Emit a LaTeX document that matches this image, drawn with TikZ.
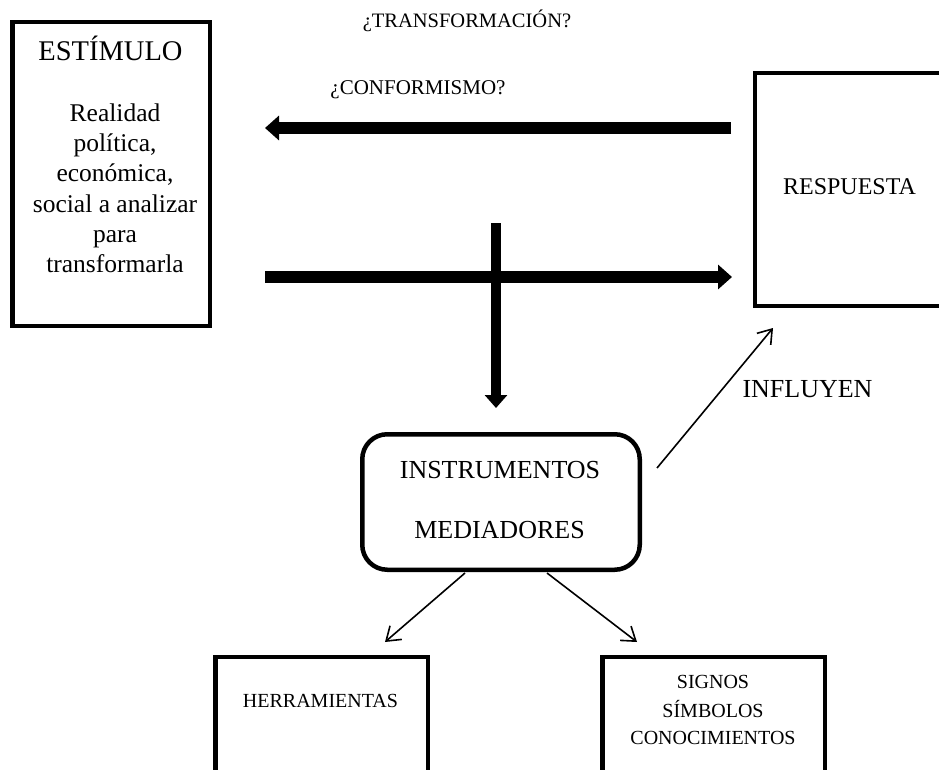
\documentclass[tikz,border=0pt]{standalone}
\usepackage{fontspec}
\setmainfont{Liberation Serif}
\usetikzlibrary{arrows.meta}
\begin{document}
\begin{tikzpicture}[x=1pt,y=-1pt,
  box/.style={draw, line width=4.5pt, inner sep=0pt},
  fatarrow/.style={line width=12pt, -{Triangle[length=14pt,width=24pt]}},
  thinarrow/.style={line width=1.6pt, -{Straight Barb[length=13pt,width=18pt]}},
  lbl/.style={anchor=base, inner sep=0pt},
  fs/.style={font=\fontsize{#1}{#1}\selectfont}
]
\useasboundingbox (0,0) rectangle (939,770);
\clip (0,0) rectangle (939,770);

% boxes
\node[box, minimum width=197.5pt, minimum height=303.5pt] (estim) at (111,174) {};
\node[box, minimum width=209.75pt, minimum height=232.5pt] (resp) at (860.1,189.5) {};
\node[box, rounded corners=25pt, minimum width=277.5pt, minimum height=135.5pt] (instr) at (501,502) {};
\node[box, minimum width=212.5pt, minimum height=142.75pt] (herr) at (321.5,728.6) {};
\node[box, minimum width=222.5pt, minimum height=142.75pt] (signos) at (713.5,728.6) {};

% texts
\node[lbl, fs=20.5] (transf) at (467,28) {¿TRANSFORMACIÓN?};
\node[lbl, fs=21] (conf) at (418,95) {¿CONFORMISMO?};
\node[lbl, fs=28.5] (estimtitle) at (110.5,61) {ESTÍMULO};
\node[lbl, fs=25.5] (r1) at (115,122) {Realidad};
\node[lbl, fs=25.5] (r2) at (115,152) {política,};
\node[lbl, fs=25.5] (r3) at (115,182) {económica,};
\node[lbl, fs=25.5] (r4) at (115,212) {social a analizar};
\node[lbl, fs=25.5] (r5) at (115,242) {para};
\node[lbl, fs=25.5] (r6) at (115,272) {transformarla};
\node[lbl, fs=24] (resptext) at (849.5,195) {RESPUESTA};
\node[lbl, fs=26] (instr1) at (500,478) {INSTRUMENTOS};
\node[lbl, fs=26] (instr2) at (499.5,538) {MEDIADORES};
\node[lbl, fs=26] (infl) at (807.5,397) {INFLUYEN};
\node[lbl, fs=20] (herrtext) at (320.5,707) {HERRAMIENTAS};
\node[lbl, fs=20] (s1) at (713,688) {SIGNOS};
\node[lbl, fs=20] (s2) at (713,717) {SÍMBOLOS};
\node[lbl, fs=20] (s3) at (713,744) {CONOCIMIENTOS};

% connector end points
\coordinate (backstart) at (731,128);
\coordinate (backend) at (265,128);
\coordinate (fwdstart) at (265,277);
\coordinate (fwdend) at (732,277);
\coordinate (downstart) at (496,223);
\coordinate (downend) at (496,408);
\coordinate (inflstart) at (657,468);
\coordinate (inflend) at (773,328);
\coordinate (herrstart) at (465,573);
\coordinate (herrend) at (385,642);
\coordinate (signstart) at (547,573);
\coordinate (signend) at (637,642);

% thick arrows
\draw[fatarrow] (backstart) -- (backend);
\draw[fatarrow] (fwdstart) -- (fwdend);
\draw[line width=10pt, -{Triangle[length=13pt,width=22pt]}] (downstart) -- (downend);

% thin arrows
\draw[thinarrow] (inflstart) -- (inflend);
\draw[thinarrow] (herrstart) -- (herrend);
\draw[thinarrow] (signstart) -- (signend);
\end{tikzpicture}
\end{document}
